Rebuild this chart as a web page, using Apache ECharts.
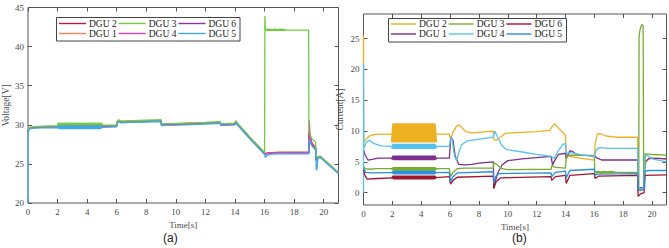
<!DOCTYPE html>
<html><head><meta charset="utf-8">
<script src="https://cdn.jsdelivr.net/npm/echarts@6/dist/echarts.min.js"></script>
<style>html,body{margin:0;padding:0;background:#fff}#c{width:669px;height:248px}</style>
</head><body><div id="c"></div>
<script>
// ---------- tick labels ----------
const timeTicks = [0,2,4,6,8,10,12,14,16,18,20];
const voltTicks = [20,25,30,35,40,45];
const currTicks = [0,5,10,15,20,25];
const legendRow1 = ['DGU 2','DGU 3','DGU 6'];
const legendRow2 = ['DGU 1','DGU 4','DGU 5'];

// ---------- (a) voltage [t, V] ----------
const vDGU2 = [[0,29.15],[0.05,29.47],[0.15,29.62],[0.4,29.69],[1,29.73],[2,29.77],[2.5,29.95],[5,29.98],[5.02,29.87],[6,29.89],[6.03,30.32],[6.12,30.55],[6.3,30.39],[7,30.44],[8,30.5],[9,30.55],[9.03,30.02],[9.15,30.05],[10,30.09],[11,30.17],[12,30.24],[13,30.32],[13.03,30.07],[13.5,30.09],[14,30.13],[14.05,30.47],[14.15,30.17],[15,28.37],[16,26.37],[16.1,26.32],[16.3,26.42],[17,26.47],[19,26.47],[19.02,29.2],[19.1,28.3],[19.2,27.6],[19.35,27.2],[19.45,27.0],[19.5,25.5],[19.6,25.8],[19.75,25.95],[21,23.85]];
const vDGU1 = [[0,29.2],[0.05,29.5],[0.15,29.65],[0.4,29.72],[1,29.76],[2,29.8],[2.5,30.05],[5,30.1],[5.02,29.9],[6,29.92],[6.03,30.35],[6.12,30.58],[6.3,30.42],[7,30.47],[8,30.53],[9,30.58],[9.03,30.05],[9.15,30.08],[10,30.12],[11,30.2],[12,30.27],[13,30.35],[13.03,30.1],[13.5,30.12],[14,30.16],[14.05,30.5],[14.15,30.2],[15,28.4],[16,26.4],[16.1,26.35],[16.3,26.45],[17,26.5],[19,26.5],[19.02,28.9],[19.1,28.2],[19.2,27.7],[19.35,27.35],[19.45,27.15],[19.5,25.6],[19.6,25.85],[19.75,26.0],[21,23.9]];
const vDGU3 = [[0,29.25],[0.05,29.55],[0.15,29.7],[0.4,29.77],[1,29.82],[2,29.88],[2.02,30.1],[5,30.12],[5.02,29.95],[6,29.97],[6.03,30.4],[6.12,30.62],[6.3,30.47],[7,30.52],[8,30.58],[9,30.63],[9.03,30.1],[9.15,30.13],[10,30.17],[11,30.25],[12,30.32],[13,30.4],[13.03,30.15],[13.5,30.17],[14,30.21],[14.05,30.5],[14.15,30.25],[15,28.45],[16,26.45],[16.02,43.9],[16.05,42.4],[16.1,42.12],[17.5,42.1],[18.98,42.1],[19.0,29.25],[19.1,28.6],[19.2,28.2],[19.35,27.95],[19.45,27.8],[19.5,25.8],[19.6,25.9],[19.75,26.0],[21,23.9]];
const vDGU3band = [[2,30.05],[2.1,30.15],[2.2,30.05],[2.3,30.15],[2.4,30.05],[2.5,30.15],[2.6,30.05],[2.7,30.15],[2.8,30.05],[2.9,30.15],[3,30.05],[3.1,30.15],[3.2,30.05],[3.3,30.15],[3.4,30.05],[3.5,30.15],[3.6,30.05],[3.7,30.15],[3.8,30.05],[3.9,30.15],[4,30.05],[4.1,30.15],[4.2,30.05],[4.3,30.15],[4.4,30.05],[4.5,30.15],[4.6,30.05],[4.7,30.15],[4.8,30.05],[4.9,30.15],[5,30.05]];
const vDGU3band2 = [[16.1,42.12],[16.3,42.16],[16.5,42.12],[16.7,42.16],[16.9,42.12],[17.1,42.16],[17.4,42.12]];
const vDGU4 = [[0,29.1],[0.05,29.45],[0.15,29.6],[0.4,29.66],[1,29.7],[2,29.75],[2.5,29.92],[5,29.95],[5.02,29.85],[6,29.88],[6.03,30.3],[6.12,30.5],[6.3,30.35],[7,30.4],[8,30.46],[9,30.52],[9.03,29.98],[9.15,30.02],[10,30.05],[11,30.12],[12,30.2],[13,30.28],[13.03,30.02],[13.5,30.04],[14,30.08],[14.05,30.45],[14.15,30.12],[15,28.35],[16,26.35],[16.1,26.3],[16.3,26.42],[17,26.45],[19,26.45],[19.02,30.6],[19.08,28.6],[19.2,27.7],[19.35,27.3],[19.45,27.1],[19.5,25.6],[19.6,25.8],[19.75,25.95],[21,23.85]];
const vDGU6 = [[0,29.1],[0.05,29.42],[0.15,29.57],[0.4,29.64],[1,29.68],[2,29.72],[2.5,29.9],[5,29.93],[5.02,29.82],[6,29.84],[6.03,30.27],[6.12,30.5],[6.3,30.34],[7,30.39],[8,30.45],[9,30.5],[9.03,29.97],[9.15,30.0],[10,30.04],[11,30.12],[12,30.19],[13,30.27],[13.03,30.02],[13.5,30.04],[14,30.08],[14.05,30.42],[14.15,30.12],[15,28.32],[16,26.32],[16.1,26.27],[16.3,26.37],[17,26.42],[19,26.42],[19.02,29.0],[19.1,28.2],[19.2,27.5],[19.35,27.1],[19.45,26.9],[19.5,25.45],[19.6,25.75],[19.75,25.9],[21,23.8]];
const vDGU5 = [[0,20],[0,28.9],[0.05,29.3],[0.15,29.5],[0.4,29.57],[1,29.6],[2,29.62],[5,29.66],[5.02,29.72],[6,29.75],[6.03,30.15],[6.12,30.4],[6.3,30.25],[7,30.3],[8,30.36],[9,30.42],[9.03,29.88],[9.15,29.92],[10,29.95],[11,30.02],[12,30.1],[13,30.18],[13.03,29.92],[13.5,29.94],[14,29.98],[14.05,30.35],[14.15,30.0],[15,28.2],[16,26.2],[16.05,25.85],[16.15,26.05],[16.4,26.25],[17,26.3],[19,26.3],[19.02,28.2],[19.1,27.7],[19.2,27.3],[19.35,27.0],[19.45,26.8],[19.5,24.2],[19.55,24.4],[19.6,25.7],[19.75,25.85],[21,23.75]];
const vDGU5band = [[2,29.55],[2.1,29.78],[2.2,29.55],[2.3,29.78],[2.4,29.55],[2.5,29.78],[2.6,29.55],[2.7,29.78],[2.8,29.55],[2.9,29.78],[3,29.55],[3.1,29.78],[3.2,29.55],[3.3,29.78],[3.4,29.55],[3.5,29.78],[3.6,29.55],[3.7,29.78],[3.8,29.55],[3.9,29.78],[4,29.55],[4.1,29.78],[4.2,29.55],[4.3,29.78],[4.4,29.55],[4.5,29.78],[4.6,29.55],[4.7,29.78],[4.8,29.55],[4.9,29.78],[5,29.55]];

// ---------- (b) current [t, A] ----------
const iDGU2 = [[0,21],[0,25.5],[0.02,8.2],[0.15,8.6],[0.4,9.2],[0.8,9.45],[2,9.5],[5,9.5],[5.95,9.5],[6.02,8.7],[6.2,9.8],[6.45,10.8],[6.6,11.0],[6.8,10.6],[7.1,9.9],[7.5,9.7],[8,9.8],[9,10.0],[9.03,8.6],[9.2,8.5],[9.5,9.0],[9.8,9.6],[10.2,9.7],[11,9.8],[12,9.9],[12.9,10.1],[13.1,10.8],[13.25,11.2],[13.4,10.8],[13.7,10.0],[14,9.3],[14.05,6.2],[14.3,5.9],[15,5.6],[16,5.3],[16.05,7.8],[16.2,9.5],[16.4,9.6],[16.8,9.2],[17.5,9.0],[19,9.0],[19.03,0.5],[19.2,0.3],[19.45,0.6],[19.5,4.5],[19.7,5.3],[20,5.6],[20.5,5.6],[21,5.4]];
const iDGU2band = [[2,8.15],[2.1,11.25],[2.2,8.15],[2.3,11.25],[2.4,8.15],[2.5,11.25],[2.6,8.15],[2.7,11.25],[2.8,8.15],[2.9,11.25],[3,8.15],[3.1,11.25],[3.2,8.15],[3.3,11.25],[3.4,8.15],[3.5,11.25],[3.6,8.15],[3.7,11.25],[3.8,8.15],[3.9,11.25],[4,8.15],[4.1,11.25],[4.2,8.15],[4.3,11.25],[4.4,8.15],[4.5,11.25],[4.6,8.15],[4.7,11.25],[4.8,8.15],[4.9,11.25],[5,8.15]];
const iDGU1 = [[0,7.0],[0.1,6.2],[0.3,5.3],[0.6,5.4],[1,5.6],[2,5.6],[5,5.6],[5.95,5.6],[6.05,9.0],[6.2,8.5],[6.35,6.0],[6.6,4.6],[7,4.5],[7.5,4.6],[8,4.8],[9,5.0],[9.03,0.7],[9.1,1.5],[9.3,3.2],[9.6,4.5],[10,5.2],[11,5.5],[12,5.7],[13,5.9],[13.1,4.5],[13.2,5.0],[13.5,6.2],[14,6.4],[14.05,5.5],[14.3,6.8],[14.5,6.7],[14.8,6.1],[16,6.0],[16.2,5.6],[16.5,5.3],[19,5.3],[19.03,0.5],[19.2,0.8],[19.45,0.8],[19.5,5.0],[19.8,5.6],[21,5.5]];
const iDGU1band = [[2,5.35],[2.1,5.95],[2.2,5.35],[2.3,5.95],[2.4,5.35],[2.5,5.95],[2.6,5.35],[2.7,5.95],[2.8,5.35],[2.9,5.95],[3,5.35],[3.1,5.95],[3.2,5.35],[3.3,5.95],[3.4,5.35],[3.5,5.95],[3.6,5.35],[3.7,5.95],[3.8,5.35],[3.9,5.95],[4,5.35],[4.1,5.95],[4.2,5.35],[4.3,5.95],[4.4,5.35],[4.5,5.95],[4.6,5.35],[4.7,5.95],[4.8,5.35],[4.9,5.95],[5,5.35]];
const iDGU3 = [[0,4.3],[0.1,3.9],[0.4,3.8],[1,3.9],[2,3.9],[5,3.9],[5.95,3.9],[6.03,2.6],[6.2,3.3],[6.5,3.9],[7,4.0],[9,4.0],[9.03,4.9],[9.2,4.6],[9.6,3.9],[10,3.75],[13,3.8],[13.05,4.4],[13.3,4.1],[14,4.0],[14.05,5.9],[14.3,6.1],[16,6.0],[16.03,3.4],[16.1,3.3],[17.5,3.3],[19,3.3],[19.03,0.3],[19.08,0.5],[19.1,25.5],[19.18,26.6],[19.3,27.3],[19.38,27.1],[19.42,1.0],[19.48,0.5],[19.52,6.3],[20,6.2],[21,6.1]];
const iDGU3band = [[2,3.65],[2.1,4.05],[2.2,3.65],[2.3,4.05],[2.4,3.65],[2.5,4.05],[2.6,3.65],[2.7,4.05],[2.8,3.65],[2.9,4.05],[3,3.65],[3.1,4.05],[3.2,3.65],[3.3,4.05],[3.4,3.65],[3.5,4.05],[3.6,3.65],[3.7,4.05],[3.8,3.65],[3.9,4.05],[4,3.65],[4.1,4.05],[4.2,3.65],[4.3,4.05],[4.4,3.65],[4.5,4.05],[4.6,3.65],[4.7,4.05],[4.8,3.65],[4.9,4.05],[5,3.65]];
const iDGU3band2 = [[16.1,3.25],[16.3,3.38],[16.5,3.25],[16.7,3.38],[16.9,3.25],[17.1,3.38],[17.4,3.3]];
const iDGU4 = [[0,0],[0,21],[0.02,7.2],[0.2,8.2],[0.4,8.5],[0.7,8.0],[1.2,7.6],[2,7.5],[5,7.5],[5.95,7.5],[6.05,9.0],[6.15,8.5],[6.3,6.0],[6.45,5.2],[6.6,6.5],[6.8,7.8],[7.2,8.4],[8,8.7],[9,9.0],[9.1,10.0],[9.3,9.0],[9.6,7.6],[9.9,7.0],[11,6.6],[12,6.2],[13,5.9],[13.2,5.5],[13.5,6.8],[13.8,7.8],[14,8.0],[14.05,6.4],[14.3,6.5],[15,6.2],[16,5.8],[16.1,6.8],[16.3,7.3],[17,7.2],[19,7.2],[19.03,0.8],[19.2,0.5],[19.45,1.0],[19.5,6.0],[19.7,6.0],[20,5.5],[21,5.0]];
const iDGU4band = [[2,7.15],[2.1,7.85],[2.2,7.15],[2.3,7.85],[2.4,7.15],[2.5,7.85],[2.6,7.15],[2.7,7.85],[2.8,7.15],[2.9,7.85],[3,7.15],[3.1,7.85],[3.2,7.15],[3.3,7.85],[3.4,7.15],[3.5,7.85],[3.6,7.15],[3.7,7.85],[3.8,7.15],[3.9,7.85],[4,7.15],[4.1,7.85],[4.2,7.15],[4.3,7.85],[4.4,7.15],[4.5,7.85],[4.6,7.15],[4.7,7.85],[4.8,7.15],[4.9,7.85],[5,7.15]];
const iDGU6 = [[0,3.7],[0.1,2.8],[0.25,2.2],[1,2.3],[2,2.4],[5,2.45],[5.95,2.6],[6.03,1.4],[6.2,2.0],[6.5,2.5],[9,2.7],[9.03,0.7],[9.2,1.8],[9.5,2.4],[13,2.6],[13.05,2.0],[13.3,2.6],[14,2.8],[14.05,1.5],[14.3,2.8],[16,3.1],[16.05,2.3],[16.3,2.7],[19,2.8],[19.03,-0.6],[19.2,-0.2],[19.45,0.0],[19.5,2.8],[21,2.9]];
const iDGU6band = [[2,2.25],[2.1,2.65],[2.2,2.25],[2.3,2.65],[2.4,2.25],[2.5,2.65],[2.6,2.25],[2.7,2.65],[2.8,2.25],[2.9,2.65],[3,2.25],[3.1,2.65],[3.2,2.25],[3.3,2.65],[3.4,2.25],[3.5,2.65],[3.6,2.25],[3.7,2.65],[3.8,2.25],[3.9,2.65],[4,2.25],[4.1,2.65],[4.2,2.25],[4.3,2.65],[4.4,2.25],[4.5,2.65],[4.6,2.25],[4.7,2.65],[4.8,2.25],[4.9,2.65],[5,2.25]];
const iDGU5 = [[0,4.0],[0.15,3.3],[0.5,3.2],[2,3.25],[5,3.25],[5.95,3.3],[6.03,1.8],[6.2,2.6],[6.5,3.2],[9,3.4],[9.03,1.5],[9.15,2.6],[9.4,3.1],[13,3.2],[13.05,2.6],[13.3,3.3],[14,3.5],[14.05,2.4],[14.3,3.6],[16,3.8],[16.05,2.9],[16.3,3.0],[19,3.1],[19.03,0.5],[19.3,0.4],[19.45,0.5],[19.5,3.5],[19.8,3.6],[21,3.6]];
const iDGU5band = [[2,3.1],[2.1,3.4],[2.2,3.1],[2.3,3.4],[2.4,3.1],[2.5,3.4],[2.6,3.1],[2.7,3.4],[2.8,3.1],[2.9,3.4],[3,3.1],[3.1,3.4],[3.2,3.1],[3.3,3.4],[3.4,3.1],[3.5,3.4],[3.6,3.1],[3.7,3.4],[3.8,3.1],[3.9,3.4],[4,3.1],[4.1,3.4],[4.2,3.1],[4.3,3.4],[4.4,3.1],[4.5,3.4],[4.6,3.1],[4.7,3.4],[4.8,3.1],[4.9,3.4],[5,3.1]];

// ---------- styling ----------
const colA = {'DGU 2':'#B0203F','DGU 3':'#6CCF3F','DGU 6':'#85379A','DGU 1':'#F4845F','DGU 4':'#EE3DA8','DGU 5':'#3DA9EA'};
const colB = {'DGU 2':'#EDB120','DGU 3':'#77AC30','DGU 6':'#A2142F','DGU 1':'#7E2F8E','DGU 4':'#55C3EF','DGU 5':'#2A8FE6'};
const SERIF = '"Liberation Serif","Times New Roman",serif';
const TXT = '#4a4a4a';

const chart = echarts.init(document.getElementById('c'), null, {renderer:'svg'});

function mk(prefix, name, data, xi, yi, col, w) {
  return {name: prefix + name, type:'line', xAxisIndex:xi, yAxisIndex:yi, data:data,
    showSymbol:false, symbol:'none', animation:false,
    lineStyle:{width:w || 1.3, color:col[name], join:'bevel'}, itemStyle:{color:col[name]}};
}
function xAx(grid, top, nameGap) {
  return {type:'value', gridIndex:grid, min:0, max:21, position: top ? 'top':'bottom',
    axisLine:{show:false, onZero:false}, splitLine:{show:false},
    axisTick:{show:true, inside:true, length:4, customValues:timeTicks, lineStyle:{color:'#555'}},
    axisLabel:{show:!top, customValues:timeTicks, margin:4, fontFamily:SERIF, fontSize:9, color:TXT},
    name: top ? '' : 'Time[s]', nameLocation:'middle', nameGap:nameGap,
    nameTextStyle:{fontFamily:SERIF, fontSize:9, color:TXT}};
}
function yAx(grid, right, min, max, ticks, name, nameGap) {
  return {type:'value', gridIndex:grid, min:min, max:max, position: right ? 'right':'left',
    axisLine:{show:false, onZero:false}, splitLine:{show:false},
    axisTick:{show:true, inside:true, length:4, customValues:ticks, lineStyle:{color:'#555'}},
    axisLabel:{show:!right, customValues:ticks, margin:4, fontFamily:SERIF, fontSize:9, color:TXT},
    name: right ? '' : name, nameLocation:'middle', nameGap:nameGap,
    nameTextStyle:{fontFamily:SERIF, fontSize:9.5, color:TXT}};
}
function lg(prefix, row, left, top, iw) {
  return {data: row.map(n => prefix + n), left:left, top:top, orient:'horizontal',
    icon:'rect', itemWidth:iw, itemHeight:1.4, itemGap:2, padding:0, selectedMode:false,
    formatter: n => n.slice(2),
    textStyle:{fontFamily:SERIF, fontSize:9.5, color:'#222', padding:[0,0,0,-2]}};
}

const option = {
  backgroundColor:'#fff',
  animation:false,
  grid:[
    {left:26, top:7.5, width:312.5, height:195.5, show:true, borderColor:'#555', borderWidth:1, containLabel:false},
    {left:363.5, top:14, width:303, height:191, show:true, borderColor:'#555', borderWidth:1, containLabel:false}
  ],
  xAxis:[ xAx(0,false,16), xAx(0,true,0), xAx(1,false,14), xAx(1,true,0) ],
  yAxis:[ yAx(0,false,20,45,voltTicks,'Voltage[V]',17), yAx(0,true,20,45,voltTicks,'',0),
          yAx(1,false,-2,29,currTicks,'Current[A]',19), yAx(1,true,-2,29,currTicks,'',0) ],
  legend:[ lg('a:',legendRow1,59,18.5,27), lg('a:',legendRow2,59,28.5,27),
           lg('b:',legendRow1,391,19,25), lg('b:',legendRow2,391,29,25) ],
  graphic:[
    {type:'rect', z:3, shape:{x:56.5,y:17.5,width:183.5,height:23.5}, style:{fill:'#fff', stroke:'#444', lineWidth:1}},
    {type:'rect', z:3, shape:{x:388.5,y:18.5,width:178,height:23.5}, style:{fill:'#fff', stroke:'#444', lineWidth:1}},
    {type:'text', z:5, left:163, top:232, style:{text:'(a)', font:'12px "Liberation Sans", Arial, sans-serif', fill:'#222'}},
    {type:'text', z:5, left:512, top:232, style:{text:'(b)', font:'12px "Liberation Sans", Arial, sans-serif', fill:'#222'}}
  ],
  series:[
    mk('a:','DGU 2', vDGU2, 0,0,colA),
    mk('a:','DGU 1', vDGU1, 0,0,colA),
    mk('a:','DGU 6', vDGU6, 0,0,colA),
    mk('a:','DGU 4', vDGU4, 0,0,colA),
    mk('a:','DGU 3', vDGU3, 0,0,colA),
    mk('a:','DGU 5', vDGU5, 0,0,colA),
    mk('a:','DGU 3', vDGU3band, 0,0,colA,2.6),
    mk('a:','DGU 3', vDGU3band2, 0,0,colA,2.2),
    mk('a:','DGU 5', vDGU5band, 0,0,colA,3),
    mk('b:','DGU 2', iDGU2, 2,2,colB),
    mk('b:','DGU 1', iDGU1, 2,2,colB),
    mk('b:','DGU 3', iDGU3, 2,2,colB),
    mk('b:','DGU 4', iDGU4, 2,2,colB),
    mk('b:','DGU 6', iDGU6, 2,2,colB),
    mk('b:','DGU 5', iDGU5, 2,2,colB),
    mk('b:','DGU 2', iDGU2band, 2,2,colB,3),
    mk('b:','DGU 4', iDGU4band, 2,2,colB,3),
    mk('b:','DGU 1', iDGU1band, 2,2,colB,3),
    mk('b:','DGU 3', iDGU3band, 2,2,colB,3),
    mk('b:','DGU 5', iDGU5band, 2,2,colB,3),
    mk('b:','DGU 6', iDGU6band, 2,2,colB,3),
    mk('b:','DGU 3', iDGU3band2, 2,2,colB,2.4)
  ]
};
chart.setOption(option);
</script>
</body></html>
